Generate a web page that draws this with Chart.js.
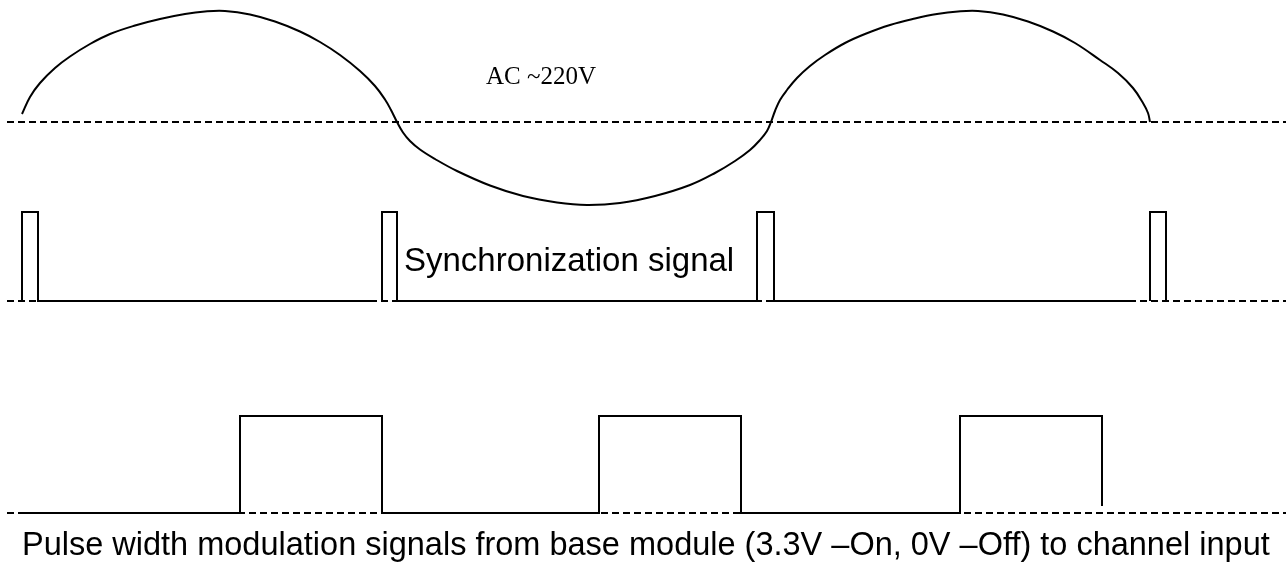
<!DOCTYPE html>
<html>
<head>
<meta charset="utf-8">
<title>AC sync and PWM timing</title>
<script src="https://cdn.jsdelivr.net/npm/chart.js@4/dist/chart.umd.min.js"></script>
<style>
  html, body { margin: 0; padding: 0; background: #fff; }
  #wrap { width: 1287px; height: 571px; }
</style>
</head>
<body>
<div id="wrap"><canvas id="timing" width="1287" height="571"></canvas></div>
<script>
// ===============================
// Data (diagram units, y grows downward)
// ===============================

// AC mains wave
const acX = [22, 30, 40, 55, 70, 90, 110, 135, 160, 185, 205, 225,
             250, 275, 300, 320, 340, 360, 375, 385, 391, 397,
             403, 410, 420, 435, 457, 490, 523, 557, 587, 620, 655, 690, 715, 735, 750, 760, 767, 771,
             775, 780, 787, 797, 810, 825, 845, 865, 890, 915, 937, 958, 978,
             1003, 1028, 1053, 1075, 1100, 1118, 1133, 1143, 1148, 1150];
const acY = [114, 97, 83, 68, 56.5, 44, 34, 25.5, 19, 14, 11.5, 11,
             14.5, 21.5, 31.5, 42, 55, 71, 86, 99.5, 110, 122,
             132.5, 141, 149.5, 159, 171, 185.5, 196, 202.5, 205, 203, 196, 185, 173, 161, 150, 140, 131, 122,
             111, 100, 90, 78, 66, 55, 43, 34, 25, 18.5, 14, 11.5, 11,
             14.5, 21.5, 31.5, 43, 60, 73, 88, 103, 113, 122];

// synchronization pulses (null = pen lifted)
const syncX = [22, 22, 38, 38, 373, null, 382, 382, 397, 397, 757, 757, 774, 774, 1134, null, 1150, 1150, 1166, 1166];
const syncY = [301, 212, 212, 301, 301, null, 301, 212, 212, 301, 301, 212, 212, 301, 301, null, 301, 212, 212, 301];

// PWM output (3.3V high / 0V low)
const pwmX = [22, 240, 240, 382, 382, 599, 599, 741, 741, 960, 960, 1102, 1102];
const pwmY = [513, 513, 416, 416, 513, 513, 416, 416, 513, 513, 416, 416, 506];

// zero reference levels (dashed)
const zeroLevels = [122, 301, 513];
const zeroFrom = 7;
const zeroTo = 1286;

// texts
const labelTexts = [
    "AC ~220V",
    "Synchronization signal",
    "Pulse width modulation signals from base module (3.3V \u2013On, 0V \u2013Off) to channel input"
];
const labelAt = [[486, 84], [404, 271], [22, 555]];
const labelFonts = ['25px "Liberation Serif"', '33px "Liberation Sans"', '32.5px "Liberation Sans"'];


// ===============================
// helpers
// ===============================
function toPoints(xs, ys) {
    return xs.map((x, i) => (x === null ? { x: NaN, y: null } : { x: x, y: ys[i] }));
}

const datasets = [];

zeroLevels.forEach(level => {
    datasets.push({
        data: [{ x: zeroFrom, y: level }, { x: zeroTo, y: level }],
        borderColor: "#000",
        borderWidth: 2,
        borderDash: [7, 4]
    });
});

// smooth spline for the sine wave
datasets.push({
    data: toPoints(acX, acY),
    borderColor: "#000",
    borderWidth: 2,
    tension: 0.4
});

datasets.push({
    data: toPoints(syncX, syncY),
    borderColor: "#000",
    borderWidth: 2,
    spanGaps: false
});

datasets.push({
    data: toPoints(pwmX, pwmY),
    borderColor: "#000",
    borderWidth: 2
});

// draw the texts at diagram coordinates
const labelPlugin = {
    id: "labels",
    afterDatasetsDraw(chart) {
        const ctx = chart.ctx;
        const xs = chart.scales.x;
        const ys = chart.scales.y;
        ctx.save();
        ctx.fillStyle = "#000";
        ctx.textAlign = "left";
        ctx.textBaseline = "alphabetic";
        labelTexts.forEach((txt, i) => {
            ctx.font = labelFonts[i];
            ctx.fillText(txt, xs.getPixelForValue(labelAt[i][0]), ys.getPixelForValue(labelAt[i][1]));
        });
        ctx.restore();
    }
};

const whiteBg = {
    id: "whiteBg",
    beforeDraw(chart) {
        const ctx = chart.ctx;
        ctx.save();
        ctx.fillStyle = "#fff";
        ctx.fillRect(0, 0, chart.width, chart.height);
        ctx.restore();
    }
};

new Chart(document.getElementById("timing"), {
    type: "scatter",
    data: { datasets: datasets },
    options: {
        responsive: false,
        animation: false,
        devicePixelRatio: 1,
        showLine: true,
        layout: { padding: 0 },
        elements: {
            point: { radius: 0, hoverRadius: 0 },
            line: { tension: 0, fill: false, borderCapStyle: "butt", borderJoinStyle: "miter" }
        },
        scales: {
            x: { type: "linear", min: 0, max: 1287, display: false },
            y: { type: "linear", min: 0, max: 571, reverse: true, display: false }
        },
        plugins: {
            legend: { display: false },
            tooltip: { enabled: false }
        }
    },
    plugins: [whiteBg, labelPlugin]
});
</script>
</body>
</html>
